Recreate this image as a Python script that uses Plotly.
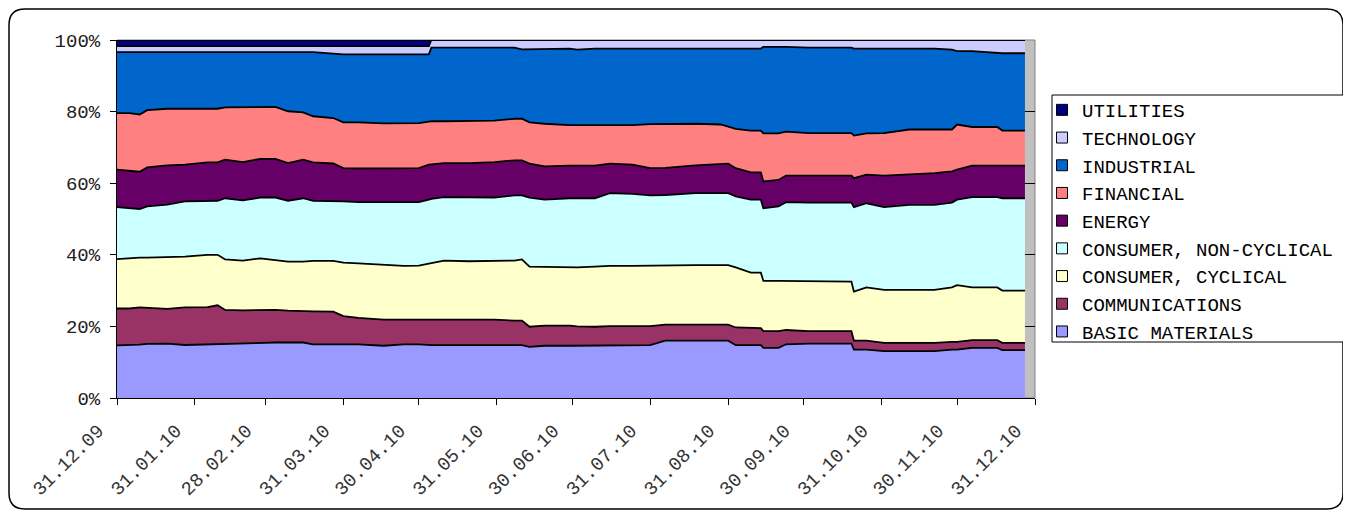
import plotly.graph_objects as go

# ---------------- data (upper edge of each stacked layer, % of total) ----------------
dates = [
    "2009-12-31", "2010-01-05", "2010-01-09", "2010-01-12", "2010-01-20", "2010-01-27",
    "2010-02-05", "2010-02-09", "2010-02-12", "2010-02-19", "2010-02-26", "2010-03-04",
    "2010-03-09", "2010-03-15", "2010-03-19", "2010-03-27", "2010-03-31", "2010-04-06",
    "2010-04-16", "2010-04-24", "2010-04-30", "2010-05-04", "2010-05-05", "2010-05-10",
    "2010-05-20", "2010-05-30", "2010-06-07", "2010-06-10", "2010-06-13", "2010-06-19",
    "2010-06-29", "2010-07-02", "2010-07-09", "2010-07-15", "2010-07-24", "2010-07-31",
    "2010-08-06", "2010-08-18", "2010-08-28", "2010-08-31", "2010-09-03", "2010-09-09",
    "2010-09-13", "2010-09-14", "2010-09-20", "2010-09-23", "2010-10-02", "2010-10-17",
    "2010-10-19", "2010-10-20", "2010-10-25", "2010-11-01", "2010-11-11", "2010-11-21",
    "2010-11-28", "2010-11-30", "2010-12-06", "2010-12-16", "2010-12-18", "2010-12-27",
]

top_basic_materials = [
    14.7, 14.7, 14.9, 15.1, 15.2, 14.8, 15.0, 15.0, 15.0, 15.2, 15.4, 15.5,
    15.5, 15.5, 15.0, 15.0, 15.0, 15.0, 14.6, 15.0, 15.0, 14.75, 14.75, 14.75,
    14.75, 14.75, 14.75, 14.75, 14.3, 14.6, 14.6, 14.6, 14.75, 14.75, 14.75, 14.75,
    16.0, 16.0, 16.0, 16.0, 14.75, 14.75, 14.75, 14.0, 14.0, 15.0, 15.2, 15.2,
    15.2, 13.5, 13.5, 13.1, 13.1, 13.1, 13.5, 13.5, 14.0, 14.0, 13.35, 13.35,
]
top_communications = [
    25.0, 25.0, 25.3, 25.2, 24.9, 25.3, 25.4, 25.9, 24.6, 24.5, 24.6, 24.6,
    24.4, 24.4, 24.2, 24.1, 22.9, 22.4, 21.9, 21.9, 21.9, 21.9, 21.9, 21.9,
    21.9, 21.9, 21.6, 21.6, 19.9, 20.2, 20.2, 20.0, 19.9, 20.1, 20.1, 20.1,
    20.5, 20.5, 20.5, 20.5, 19.7, 19.7, 19.5, 18.7, 18.7, 19.0, 18.7, 18.7,
    18.7, 16.0, 16.0, 15.4, 15.4, 15.4, 15.7, 15.7, 16.15, 16.15, 15.4, 15.4,
]
top_consumer_cyclical = [
    38.8, 39.1, 39.2, 39.2, 39.3, 39.5, 40.0, 40.0, 38.7, 38.4, 39.0, 38.6,
    38.1, 38.1, 38.3, 38.3, 37.8, 37.6, 37.2, 36.9, 37.0, 37.6, 37.8, 38.4,
    38.2, 38.4, 38.4, 38.7, 36.7, 36.6, 36.5, 36.5, 36.7, 36.9, 36.9, 37.0,
    37.1, 37.1, 37.1, 37.1, 36.5, 35.0, 35.0, 32.7, 32.7, 32.7, 32.5, 32.5,
    32.5, 29.7, 30.9, 30.2, 30.2, 30.2, 30.9, 31.5, 30.9, 30.9, 30.0, 30.0,
]
top_consumer_non_cyclical = [
    53.3, 53.0, 52.8, 53.5, 54.0, 54.9, 55.1, 55.1, 55.8, 55.2, 56.0, 56.0,
    55.1, 55.8, 55.1, 55.1, 54.9, 54.7, 54.7, 54.7, 54.7, 55.4, 55.6, 56.1,
    56.1, 56.0, 56.6, 56.6, 56.0, 55.4, 55.8, 55.8, 55.8, 57.2, 57.0, 56.6,
    56.7, 57.2, 57.2, 57.2, 56.3, 55.4, 55.4, 53.0, 53.5, 54.7, 54.6, 54.6,
    54.6, 53.3, 54.4, 53.3, 53.95, 53.95, 54.6, 55.4, 56.1, 56.1, 55.8, 55.8,
]
top_energy = [
    63.8, 63.5, 63.2, 64.4, 65.0, 65.2, 65.8, 65.8, 66.6, 65.9, 66.8, 66.8,
    65.6, 66.6, 65.8, 65.5, 64.2, 64.1, 64.2, 64.2, 64.2, 65.2, 65.3, 65.6,
    65.6, 65.9, 66.4, 66.4, 65.5, 64.7, 64.9, 64.9, 64.9, 65.45, 65.2, 64.2,
    64.3, 65.0, 65.45, 65.45, 64.2, 63.0, 63.0, 60.5, 60.9, 62.1, 62.1, 62.1,
    62.1, 61.4, 62.4, 62.1, 62.5, 62.8, 63.3, 63.8, 64.9, 64.9, 64.9, 64.9,
]
top_financial = [
    79.6, 79.6, 79.2, 80.4, 80.8, 80.8, 80.8, 80.8, 81.2, 81.2, 81.2, 81.3,
    80.1, 79.8, 78.7, 78.2, 77.0, 77.0, 76.7, 76.7, 76.8, 77.2, 77.3, 77.3,
    77.3, 77.5, 78.0, 78.0, 77.0, 76.6, 76.2, 76.2, 76.2, 76.2, 76.2, 76.5,
    76.6, 76.6, 76.4, 75.9, 75.2, 74.7, 74.7, 73.9, 73.9, 74.4, 74.0, 74.0,
    74.0, 73.3, 73.9, 74.0, 75.0, 75.0, 75.0, 76.4, 75.7, 75.7, 74.7, 74.7,
]
top_industrial = [
    96.6, 96.6, 96.6, 96.6, 96.6, 96.6, 96.6, 96.6, 96.6, 96.6, 96.6, 96.6,
    96.6, 96.6, 96.6, 96.2, 96.0, 96.0, 96.0, 96.0, 96.0, 96.0, 97.85, 97.85,
    97.85, 97.85, 97.85, 97.4, 97.4, 97.6, 97.6, 97.3, 97.6, 97.6, 97.6, 97.6,
    97.6, 97.6, 97.6, 97.6, 97.6, 97.6, 97.6, 98.1, 98.1, 98.1, 97.85, 97.85,
    97.85, 97.6, 97.6, 97.6, 97.6, 97.6, 97.3, 96.9, 96.9, 96.3, 96.3, 96.3,
]
top_technology = [
    98.3, 98.3, 98.3, 98.3, 98.3, 98.3, 98.3, 98.3, 98.3, 98.3, 98.3, 98.3,
    98.3, 98.3, 98.3, 98.3, 98.3, 98.3, 98.3, 98.3, 98.3, 98.3, 100, 100,
    100, 100, 100, 100, 100, 100, 100, 100, 100, 100, 100, 100,
    100, 100, 100, 100, 100, 100, 100, 100, 100, 100, 100, 100,
    100, 100, 100, 100, 100, 100, 100, 100, 100, 100, 100, 100,
]
top_utilities = [100] * len(dates)

series_names = [
    "BASIC MATERIALS", "COMMUNICATIONS", "CONSUMER, CYCLICAL", "CONSUMER, NON-CYCLICAL",
    "ENERGY", "FINANCIAL", "INDUSTRIAL", "TECHNOLOGY", "UTILITIES",
]
series_tops = [
    top_basic_materials, top_communications, top_consumer_cyclical, top_consumer_non_cyclical,
    top_energy, top_financial, top_industrial, top_technology, top_utilities,
]
series_colors = [
    "#9999FF", "#993366", "#FFFFCC", "#CCFFFF",
    "#660066", "#FF8080", "#0066CC", "#CCCCFF", "#000080",
]

tick_dates = [
    "2009-12-31", "2010-01-31", "2010-02-28", "2010-03-31", "2010-04-30", "2010-05-31",
    "2010-06-30", "2010-07-31", "2010-08-31", "2010-09-30", "2010-10-31", "2010-11-30",
    "2010-12-31",
]
tick_labels = [
    "31.12.09", "31.01.10", "28.02.10", "31.03.10", "30.04.10", "31.05.10",
    "30.06.10", "31.07.10", "31.08.10", "30.09.10", "31.10.10", "30.11.10",
    "31.12.10",
]
y_ticks = [0, 20, 40, 60, 80, 100]
y_labels = ["0%", "20%", "40%", "60%", "80%", "100%"]

# ---------------- layout geometry (screen pixels; the page body adds an 8px offset) ----------------
OFF = 8
W, H = 1351 - OFF, 514 - OFF
SL, SR, ST, SB = 117, 1035, 40, 398   # plot area, screen pixels
PL, PR, PT, PB = SL - OFF, SR - OFF, ST - OFF, SB - OFF
FONT = "Liberation Mono, Courier New, monospace"


def px_x(sx):
    return (sx - SL) / (SR - SL)


def px_y(sy):
    return (SB - sy) / (SB - ST)


fig = go.Figure()

for i, (name, tops, col) in enumerate(zip(series_names, series_tops, series_colors)):
    fig.add_trace(go.Scatter(
        x=dates, y=tops, name=name, mode="lines",
        line=dict(color="#000000", width=1.8, shape="linear"),
        fill="tozeroy" if i == 0 else "tonexty",
        fillcolor=col, showlegend=False, hoverinfo="x+name",
    ))

# legend entries (square swatches like the original)
for name, col in zip(series_names, series_colors):
    fig.add_trace(go.Scatter(
        x=[None], y=[None], name=name, mode="markers",
        marker=dict(symbol="square", size=11, color=col,
                    line=dict(color="#000000", width=1)),
    ))

# rounded outer frame
x0, x1, y0, y1, r = px_x(9), px_x(1343), px_y(9), px_y(509), 16
rx, ry = r / (SR - SL), r / (SB - ST)
frame = (
    f"M {x0 + rx} {y0} L {x1 - rx} {y0} Q {x1} {y0} {x1} {y0 - ry} "
    f"L {x1} {y1 + ry} Q {x1} {y1} {x1 - rx} {y1} "
    f"L {x0 + rx} {y1} Q {x0} {y1} {x0} {y1 + ry} "
    f"L {x0} {y0 - ry} Q {x0} {y0} {x0 + rx} {y0} Z"
)

fig.update_layout(
    width=W, height=H,
    margin=dict(l=PL, r=W - PR, t=PT, b=H - PB, pad=0, autoexpand=False),
    paper_bgcolor="#FFFFFF",
    plot_bgcolor="#C0C0C0",
    font=dict(family=FONT, size=19, color="#000000"),
    showlegend=True,
    legend=dict(
        x=px_x(1042), y=px_y(91), xanchor="left", yanchor="top",
        traceorder="reversed",
        borderwidth=0, bgcolor="rgba(0,0,0,0)",
        font=dict(family=FONT, size=19, color="#000000"),
        itemsizing="trace",
    ),
    shapes=[
        dict(type="rect", xref="paper", yref="paper", x0=0, x1=1, y0=0, y1=1,
             line=dict(color="#808080", width=1), layer="below"),
        dict(type="path", xref="paper", yref="paper", path=frame,
             line=dict(color="#000000", width=1.5), layer="above"),
        dict(type="rect", xref="paper", yref="paper",
             x0=px_x(1052), x1=px_x(1348), y0=px_y(342), y1=px_y(95),
             line=dict(color="#000000", width=1), fillcolor="#FFFFFF", layer="above"),
    ],
)

fig.update_xaxes(
    type="date",
    range=["2009-12-31", "2010-12-31"],
    tickmode="array", tickvals=tick_dates, ticktext=tick_labels,
    tickangle=-45,
    ticks="outside", ticklen=6, tickcolor="#000000", tickwidth=1,
    ticklabelstandoff=7, ticklabelshift=-19,
    showline=True, linecolor="#000000", linewidth=1,
    showgrid=False, zeroline=False, automargin=False,
    tickfont=dict(family=FONT, size=19, color="#333333"),
)
fig.update_yaxes(
    range=[0, 100],
    tickmode="array", tickvals=y_ticks, ticktext=y_labels,
    ticks="outside", ticklen=6, tickcolor="#000000", tickwidth=1,
    ticklabelstandoff=6,
    showline=True, linecolor="#000000", linewidth=1,
    showgrid=True, gridcolor="#000000", gridwidth=1,
    zeroline=False, automargin=False,
    tickfont=dict(family=FONT, size=19, color="#222222"),
)

fig.write_html("out.html")
